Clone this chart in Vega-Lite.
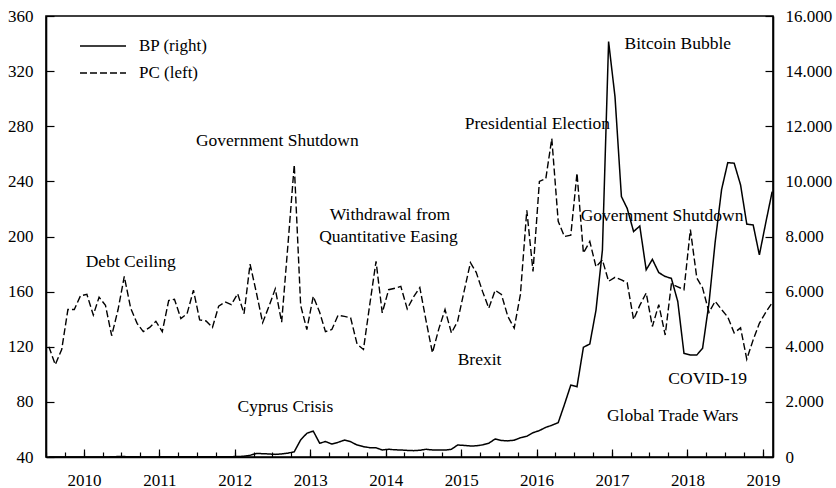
{
  "$schema": "https://vega.github.io/schema/vega-lite/v6.json",
  "width": 727,
  "height": 441,
  "autosize": {"type": "none"},
  "padding": {"left": 46, "top": 16, "right": 63, "bottom": 31},
  "background": "white",
  "config": {
    "font": "Liberation Serif",
    "view": {"stroke": "black", "strokeWidth": 1.6},
    "style": {
      "guide-label": {"font": "Liberation Serif", "fill": "black", "fontSize": 17},
      "guide-title": {"font": "Liberation Serif"}
    },
    "axis": {
      "domainColor": "black", "domainWidth": 1.6, "tickColor": "black", "tickWidth": 1.2,
      "labelColor": "black", "labelFont": "Liberation Serif", "labelFontSize": 17,
      "grid": false, "title": null, "labelFlush": false, "labelOverlap": false
    },
    "legend": {"labelFont": "Liberation Serif", "labelFontSize": 17, "labelColor": "black"}
  },
  "datasets": {
    "main": [
      {"date": "2009-07-15", "pc": 120, "bp": 0.1},
      {"date": "2009-08-15", "pc": 107, "bp": 0.1},
      {"date": "2009-09-15", "pc": 118, "bp": 0.1},
      {"date": "2009-10-15", "pc": 147, "bp": 0.1},
      {"date": "2009-11-15", "pc": 147, "bp": 0.2},
      {"date": "2009-12-15", "pc": 157, "bp": 0.3},
      {"date": "2010-01-15", "pc": 158, "bp": 0.4},
      {"date": "2010-02-15", "pc": 143, "bp": 0.9},
      {"date": "2010-03-15", "pc": 156, "bp": 0.9},
      {"date": "2010-04-15", "pc": 150, "bp": 1},
      {"date": "2010-05-15", "pc": 128, "bp": 7},
      {"date": "2010-06-15", "pc": 147, "bp": 17},
      {"date": "2010-07-15", "pc": 171, "bp": 14},
      {"date": "2010-08-15", "pc": 148, "bp": 10},
      {"date": "2010-09-15", "pc": 137, "bp": 5},
      {"date": "2010-10-15", "pc": 131, "bp": 3.5},
      {"date": "2010-11-15", "pc": 134, "bp": 2.5},
      {"date": "2010-12-15", "pc": 138.5, "bp": 3.5},
      {"date": "2011-01-15", "pc": 131, "bp": 6},
      {"date": "2011-02-15", "pc": 153.5, "bp": 5},
      {"date": "2011-03-15", "pc": 154.5, "bp": 5},
      {"date": "2011-04-15", "pc": 140.5, "bp": 5},
      {"date": "2011-05-15", "pc": 144, "bp": 5},
      {"date": "2011-06-15", "pc": 161, "bp": 6},
      {"date": "2011-07-15", "pc": 139.5, "bp": 7},
      {"date": "2011-08-15", "pc": 138.7, "bp": 10},
      {"date": "2011-09-15", "pc": 134, "bp": 12},
      {"date": "2011-10-15", "pc": 149.5, "bp": 12},
      {"date": "2011-11-15", "pc": 152.5, "bp": 11},
      {"date": "2011-12-15", "pc": 150.5, "bp": 13},
      {"date": "2012-01-15", "pc": 158.5, "bp": 15},
      {"date": "2012-02-15", "pc": 144, "bp": 30},
      {"date": "2012-03-15", "pc": 180, "bp": 60},
      {"date": "2012-04-15", "pc": 159, "bp": 130},
      {"date": "2012-05-15", "pc": 137.5, "bp": 120},
      {"date": "2012-06-15", "pc": 149.5, "bp": 110},
      {"date": "2012-07-15", "pc": 162, "bp": 95},
      {"date": "2012-08-15", "pc": 137.8, "bp": 110},
      {"date": "2012-09-15", "pc": 195, "bp": 140},
      {"date": "2012-10-15", "pc": 252, "bp": 190},
      {"date": "2012-11-15", "pc": 150, "bp": 620},
      {"date": "2012-12-15", "pc": 132.5, "bp": 860},
      {"date": "2013-01-15", "pc": 156.6, "bp": 940},
      {"date": "2013-02-15", "pc": 145, "bp": 500},
      {"date": "2013-03-15", "pc": 131, "bp": 560},
      {"date": "2013-04-15", "pc": 132.5, "bp": 470},
      {"date": "2013-05-15", "pc": 142.8, "bp": 530},
      {"date": "2013-06-15", "pc": 142, "bp": 615},
      {"date": "2013-07-15", "pc": 141, "bp": 555},
      {"date": "2013-08-15", "pc": 122, "bp": 435},
      {"date": "2013-09-15", "pc": 118, "bp": 375},
      {"date": "2013-10-15", "pc": 150, "bp": 340},
      {"date": "2013-11-15", "pc": 182, "bp": 335},
      {"date": "2013-12-15", "pc": 144.6, "bp": 255},
      {"date": "2014-01-15", "pc": 161.4, "bp": 280},
      {"date": "2014-02-15", "pc": 162.5, "bp": 260},
      {"date": "2014-03-15", "pc": 163.8, "bp": 255},
      {"date": "2014-04-15", "pc": 147.5, "bp": 240},
      {"date": "2014-05-15", "pc": 156, "bp": 230},
      {"date": "2014-06-15", "pc": 163, "bp": 245},
      {"date": "2014-07-15", "pc": 139, "bp": 280},
      {"date": "2014-08-15", "pc": 115.6, "bp": 255},
      {"date": "2014-09-15", "pc": 133, "bp": 255},
      {"date": "2014-10-15", "pc": 147, "bp": 250},
      {"date": "2014-11-15", "pc": 130, "bp": 280},
      {"date": "2014-12-15", "pc": 138.5, "bp": 435},
      {"date": "2015-01-15", "pc": 160, "bp": 420},
      {"date": "2015-02-15", "pc": 181, "bp": 400},
      {"date": "2015-03-15", "pc": 174, "bp": 405},
      {"date": "2015-04-15", "pc": 160, "bp": 440},
      {"date": "2015-05-15", "pc": 148, "bp": 500},
      {"date": "2015-06-15", "pc": 161, "bp": 655},
      {"date": "2015-07-15", "pc": 158, "bp": 600},
      {"date": "2015-08-15", "pc": 142, "bp": 585},
      {"date": "2015-09-15", "pc": 133.5, "bp": 610},
      {"date": "2015-10-15", "pc": 158, "bp": 700},
      {"date": "2015-11-15", "pc": 219, "bp": 750},
      {"date": "2015-12-15", "pc": 174.7, "bp": 880},
      {"date": "2016-01-15", "pc": 240, "bp": 960},
      {"date": "2016-02-15", "pc": 242, "bp": 1075},
      {"date": "2016-03-15", "pc": 271, "bp": 1150},
      {"date": "2016-04-15", "pc": 211, "bp": 1245},
      {"date": "2016-05-15", "pc": 200, "bp": 1900},
      {"date": "2016-06-15", "pc": 201, "bp": 2610},
      {"date": "2016-07-15", "pc": 246, "bp": 2550},
      {"date": "2016-08-15", "pc": 188, "bp": 3980},
      {"date": "2016-09-15", "pc": 196.4, "bp": 4100},
      {"date": "2016-10-15", "pc": 178, "bp": 5330},
      {"date": "2016-11-15", "pc": 183, "bp": 7500},
      {"date": "2016-12-15", "pc": 167.5, "bp": 15070},
      {"date": "2017-01-15", "pc": 170.4, "bp": 13070},
      {"date": "2017-02-15", "pc": 168.5, "bp": 9450},
      {"date": "2017-03-15", "pc": 166.5, "bp": 9020},
      {"date": "2017-04-15", "pc": 139.7, "bp": 8180},
      {"date": "2017-05-15", "pc": 150, "bp": 8380},
      {"date": "2017-06-15", "pc": 159, "bp": 6790},
      {"date": "2017-07-15", "pc": 134.7, "bp": 7170},
      {"date": "2017-08-15", "pc": 150.6, "bp": 6690},
      {"date": "2017-09-15", "pc": 128.5, "bp": 6550},
      {"date": "2017-10-15", "pc": 165.5, "bp": 6480},
      {"date": "2017-11-15", "pc": 163.5, "bp": 5640},
      {"date": "2017-12-15", "pc": 161.4, "bp": 3760},
      {"date": "2018-01-15", "pc": 205, "bp": 3700},
      {"date": "2018-02-15", "pc": 170, "bp": 3700},
      {"date": "2018-03-15", "pc": 162.7, "bp": 3940},
      {"date": "2018-04-15", "pc": 145, "bp": 5580},
      {"date": "2018-05-15", "pc": 153, "bp": 7800},
      {"date": "2018-06-15", "pc": 147, "bp": 9700},
      {"date": "2018-07-15", "pc": 141.5, "bp": 10680},
      {"date": "2018-08-15", "pc": 130, "bp": 10660},
      {"date": "2018-09-15", "pc": 133.7, "bp": 9870},
      {"date": "2018-10-15", "pc": 111, "bp": 8450},
      {"date": "2018-11-15", "pc": 125, "bp": 8420},
      {"date": "2018-12-15", "pc": 137, "bp": 7330},
      {"date": "2019-01-15", "pc": 145, "bp": 8500},
      {"date": "2019-02-15", "pc": 152, "bp": 9630}
    ],
    "notes": [
      {"date": "2010-08-15", "value": 178, "label": "Debt Ceiling"},
      {"date": "2012-07-25", "value": 265.8, "label": "Government Shutdown"},
      {"date": "2014-01-21", "value": 212, "label": "Withdrawal from"},
      {"date": "2014-01-14", "value": 196, "label": "Quantitative Easing"},
      {"date": "2016-01-05", "value": 278, "label": "Presidential Election"},
      {"date": "2017-11-15", "value": 336, "label": "Bitcoin Bubble"},
      {"date": "2017-08-31", "value": 211, "label": "Government Shutdown"},
      {"date": "2015-03-31", "value": 107, "label": "Brexit"},
      {"date": "2018-04-09", "value": 93, "label": "COVID-19"},
      {"date": "2017-10-21", "value": 66, "label": "Global Trade Wars"},
      {"date": "2012-09-02", "value": 72.3, "label": "Cyprus Crisis"}
    ]
  },
  "layer": [
    {
      "layer": [
        {
          "data": {"name": "main"},
          "mark": {"type": "line", "color": "black", "strokeWidth": 1.4},
          "encoding": {
            "x": {
              "field": "date", "type": "temporal",
              "scale": {"type": "utc", "domain": ["2009-07-01", "2019-02-19"]},
              "axis": {
                "orient": "bottom", "tickCount": {"interval": "year", "step": 1},
                "labelExpr": "utcFormat(datum.value, '%Y')",
                "tickSize": -8, "labelPadding": 23, "labelBaseline": "top"
              }
            },
            "y": {
              "field": "pc", "type": "quantitative",
              "scale": {"domain": [40, 360], "nice": false, "zero": false},
              "axis": {
                "orient": "left", "values": [40, 80, 120, 160, 200, 240, 280, 320, 360],
                "tickSize": -8, "labelPadding": 21
              }
            },
            "strokeDash": {
              "datum": "PC (left)", "type": "nominal",
              "scale": {"domain": ["BP (right)", "PC (left)"], "range": [[1, 0], [7, 3]]},
              "legend": {
                "orient": "none", "legendX": 33, "legendY": 16.5, "title": null,
                "symbolType": "stroke", "symbolSize": 2116, "symbolStrokeWidth": 1.5,
                "symbolStrokeColor": "black", "labelOffset": 12,
                "padding": 0, "rowPadding": 0, "clipHeight": 27
              }
            }
          }
        },
        {
          "data": {"name": "notes"},
          "mark": {"type": "text", "font": "Liberation Serif", "fontSize": 17.5, "align": "center", "baseline": "alphabetic", "color": "black"},
          "encoding": {
            "x": {"field": "date", "type": "temporal"},
            "y": {"field": "value", "type": "quantitative"},
            "text": {"field": "label"}
          }
        }
      ]
    },
    {
      "data": {"name": "main"},
      "mark": {"type": "line", "color": "black", "strokeWidth": 1.5},
      "encoding": {
        "x": {
          "field": "date", "type": "temporal",
          "axis": {
            "orient": "bottom", "tickCount": {"interval": "month", "step": 3},
            "labels": false, "domain": false, "tickSize": -5
          }
        },
        "y": {
          "field": "bp", "type": "quantitative",
          "scale": {"domain": [0, 16000], "nice": false},
          "axis": {
            "orient": "right", "values": [0, 2000, 4000, 6000, 8000, 10000, 12000, 14000, 16000],
            "labelExpr": "replace(format(datum.value, ','), ',', '.')",
            "tickSize": -8, "labelPadding": 20
          }
        },
        "strokeDash": {"datum": "BP (right)", "type": "nominal"}
      }
    }
  ],
  "resolve": {"scale": {"y": "independent"}, "axis": {"x": "independent"}}
}
